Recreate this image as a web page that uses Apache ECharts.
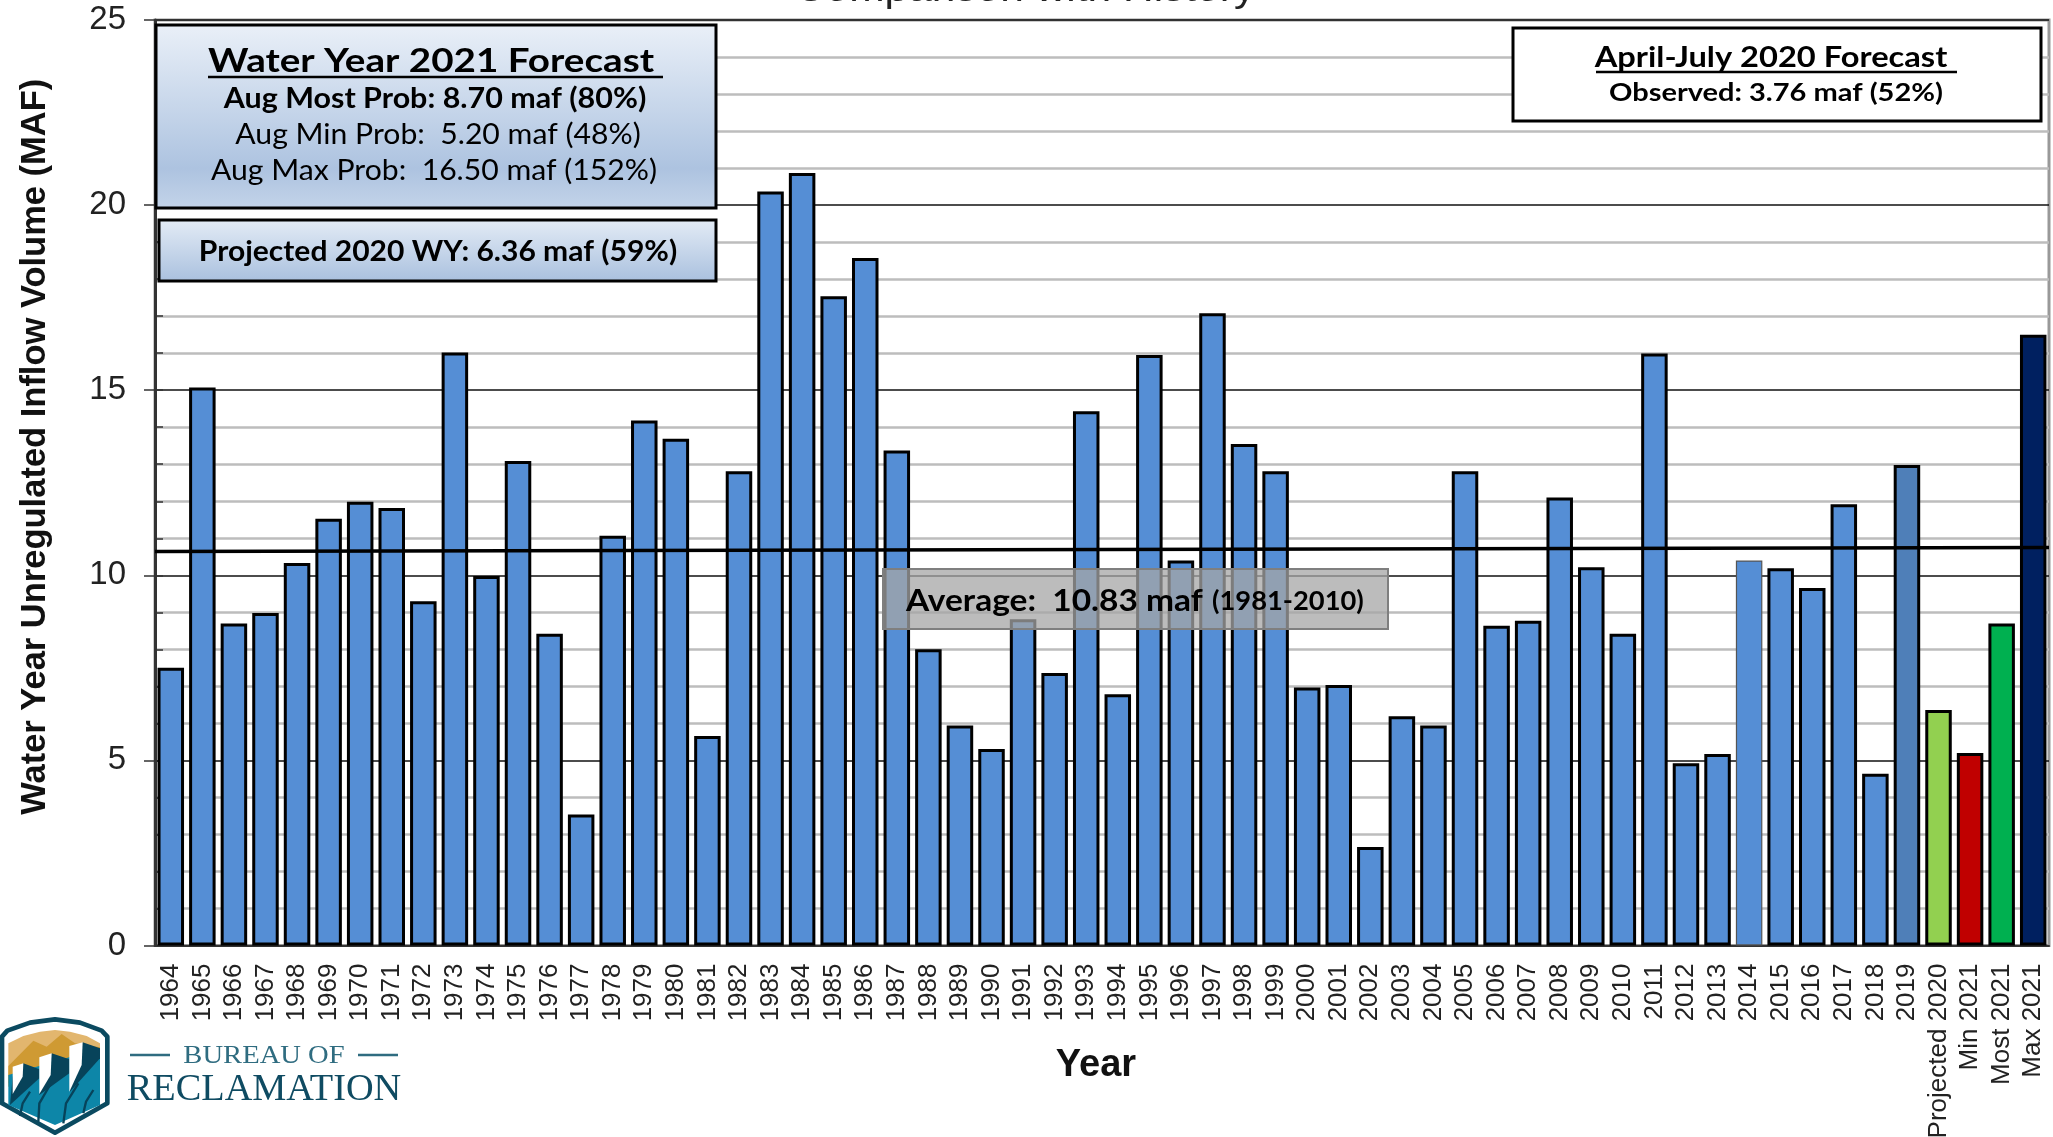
<!DOCTYPE html>
<html>
<head>
<meta charset="utf-8">
<title>Water Year Unregulated Inflow Volume</title>
<script src="https://cdn.jsdelivr.net/npm/echarts@6/dist/echarts.min.js"></script>
<style>
  html, body { margin: 0; padding: 0; background: #fff; }
  #chart { width: 2053px; height: 1137px; }
</style>
</head>
<body>
<div id="chart"></div>
<script>
var years = ['1964','1965','1966','1967','1968','1969','1970','1971','1972','1973','1974','1975','1976','1977','1978','1979','1980','1981','1982','1983','1984','1985','1986','1987','1988','1989','1990','1991','1992','1993','1994','1995','1996','1997','1998','1999','2000','2001','2002','2003','2004','2005','2006','2007','2008','2009','2010','2011','2012','2013','2014','2015','2016','2017','2018','2019'];
var forecastNames = ['Projected 2020','Min 2021','Most 2021','Max 2021'];
var inflow = [7.5,15.07,8.7,8.98,10.33,11.53,11.99,11.82,9.3,16.02,9.98,13.09,8.42,3.54,11.07,14.18,13.69,5.66,12.81,20.37,20.87,17.54,18.57,13.37,8.0,5.94,5.31,8.81,7.36,14.43,6.79,15.95,10.4,17.08,13.55,12.81,6.97,7.04,2.66,6.19,5.94,12.81,8.64,8.77,12.1,10.22,8.42,15.99,4.92,5.17,10.4,10.19,9.66,11.92,4.64,12.98];
var forecast = [6.36,5.2,8.7,16.5];
var averageEnds = [10.64,10.75];

var categories = years.concat(forecastNames);
var values = inflow.concat(forecast);

// bars that differ from the plain blue ones
var barColors = {'2019':'#4f7fb8','Projected 2020':'#92d050','Min 2021':'#c00000','Most 2021':'#00b050','Max 2021':'#002060'};

var barData = values.map(function(v, i) {
    var name = categories[i];
    var item = {value: v, itemStyle: {color: barColors[name] || '#558ed5'}};
    if (name == '2014') {
        item.itemStyle.borderColor = '#555';
        item.itemStyle.borderWidth = 1.2;
    }
    return item;
});

var chart = echarts.init(document.getElementById('chart'));

function label(text, cx, cy, size, weight, stretch, align) {
    return {
        type: 'text', x: cx, y: cy, scaleX: stretch || 1, z: 20,
        style: {
            text: text, x: 0, y: 0, fill: '#000',
            font: (weight || 'normal') + ' ' + size + 'px Lato, "Open Sans", sans-serif',
            textAlign: align || 'center', textVerticalAlign: 'middle'
        }
    };
}
function box(x, y, w, h, fill, stroke, lw) {
    return {
        type: 'rect', z: 10, shape: {x: x, y: y, width: w, height: h},
        style: {fill: fill, stroke: stroke || '#000', lineWidth: lw || 3}
    };
}
function rule(x1, x2, y) {
    return {type: 'line', z: 20, shape: {x1: x1, y1: y, x2: x2, y2: y}, style: {stroke: '#000', lineWidth: 2.5}};
}
function blueFade(stops) {
    return new echarts.graphic.LinearGradient(0, 0, 0, 1, stops);
}
function streak(points) {
    return {type: 'polyline', shape: {points: points}, style: {fill: 'none', stroke: '#07435a', lineWidth: 7}};
}

// Reclamation shield, drawn in a 3x box then scaled down
var logo = {
    type: 'group', x: 0, y: 1010, scaleX: 1/3, scaleY: 1/3, z: 5,
    children: [
        {type: 'polygon', shape: {points: [[165,28],[240,38],[305,62],[322,80],[322,280],[165,368],[6,280],[6,80],[22,62],[90,38]]}, style: {fill: '#fff', stroke: '#0b4a60', lineWidth: 14, lineJoin: 'round'}},
        {type: 'polygon', shape: {points: [[25,100],[70,78],[120,65],[165,60],[210,65],[260,78],[300,100],[300,200],[25,220]]}, style: {fill: '#e2b66e'}},
        {type: 'polygon', shape: {points: [[25,168],[100,92],[140,110],[185,72],[225,100],[300,112],[300,200],[25,230]]}, style: {fill: '#cf9a33'}},
        {type: 'polygon', shape: {points: [[25,195],[300,115],[300,285],[165,345],[25,285]]}, style: {fill: '#0d86a8'}},
        {type: 'polygon', shape: {points: [[70,160],[118,178],[118,205],[30,285],[38,200]]}, style: {fill: '#07435a'}},
        {type: 'polygon', shape: {points: [[155,130],[208,148],[208,190],[118,255],[125,200]]}, style: {fill: '#07435a'}},
        {type: 'polygon', shape: {points: [[248,97],[300,115],[300,145],[210,245],[215,170]]}, style: {fill: '#07435a'}},
        {type: 'polygon', shape: {points: [[38,170],[70,160],[68,200],[38,252]]}, style: {fill: '#fff'}},
        {type: 'polygon', shape: {points: [[118,142],[155,130],[152,195],[118,252]]}, style: {fill: '#fff'}},
        {type: 'polygon', shape: {points: [[208,108],[248,97],[245,165],[208,245]]}, style: {fill: '#fff'}},
        streak([[60,318],[68,280],[90,245]]),
        streak([[115,335],[118,280],[150,225]]),
        streak([[190,340],[198,280],[235,220]]),
        streak([[250,310],[258,275],[280,240]])
    ]
};

var graphics = [
    // chart title, cut off by the top edge in the original
    {type: 'text', x: 1025, y: 9, scaleX: 1.18, z: 20, style: {text: 'Comparison with History', x: 0, y: 0, fill: '#222', font: '36px "Liberation Sans", Arial, sans-serif', textAlign: 'center', textVerticalAlign: 'bottom'}},

    box(156, 25, 560, 183, blueFade([{offset: 0, color: '#eaf0f8'}, {offset: 0.78, color: '#adc3e0'}, {offset: 1, color: '#c4d4e9'}])),
    label('Water Year 2021 Forecast', 431, 61, 33, 'bold', 1.17),
    rule(208, 663, 77),
    label('Aug Most Prob: 8.70 maf (80%)', 435, 99, 29, 'bold', 1.05),
    label('Aug Min Prob:  5.20 maf (48%)', 438, 135, 29, 'normal', 1.04),
    label('Aug Max Prob:  16.50 maf (152%)', 434, 171, 29, 'normal', 1.04),

    box(159, 220, 557, 61, blueFade([{offset: 0, color: '#e4ecf6'}, {offset: 1, color: '#a9c0de'}])),
    label('Projected 2020 WY: 6.36 maf (59%)', 438, 252, 29, 'bold', 1.035),

    box(1513, 28, 528, 93, '#fff'),
    label('April-July 2020 Forecast', 1771, 58, 29, 'bold', 1.125),
    rule(1596, 1957, 72),
    label('Observed: 3.76 maf (52%)', 1776, 93, 25, 'bold', 1.16),

    box(883, 569, 505, 60, 'rgba(166,166,166,0.75)', '#7f7f7f', 2),
    label('Average:  10.83 maf', 906, 601, 31, 'bold', 1.08, 'left'),
    label('(1981-2010)', 1212, 602, 26, 'bold', 1.05, 'left'),

    logo,
    {type: 'line', shape: {x1: 130, y1: 1055, x2: 170, y2: 1055}, style: {stroke: '#2f6c80', lineWidth: 2.5}},
    {type: 'line', shape: {x1: 358, y1: 1055, x2: 398, y2: 1055}, style: {stroke: '#2f6c80', lineWidth: 2.5}},
    {type: 'text', x: 264, y: 1056, scaleX: 1.1, style: {text: 'BUREAU OF', x: 0, y: 0, fill: '#2f6c80', font: '26px "Liberation Serif", serif', textAlign: 'center', textVerticalAlign: 'middle'}},
    {type: 'text', x: 264, y: 1090, scaleX: 1.035, style: {text: 'RECLAMATION', x: 0, y: 0, fill: '#0f4b62', font: '37px "Liberation Serif", serif', textAlign: 'center', textVerticalAlign: 'middle'}}
];

var option = {
    animation: false,
    backgroundColor: '#fff',
    grid: {left: 155, right: 4, top: 20, bottom: 191.5, show: true, borderColor: '#999', borderWidth: 3, outerBoundsMode: 'none'},
    xAxis: [
        {
            type: 'category',
            data: categories,
            name: 'Year',
            nameLocation: 'middle',
            nameGap: 101,
            nameMoveOverlap: false,
            nameTextStyle: {fontSize: 38, fontWeight: 'bold', color: '#111', fontFamily: '"Liberation Sans", Arial, sans-serif', padding: [0, 12, 0, 0]},
            axisLine: {lineStyle: {color: '#333', width: 2}},
            axisTick: {interval: 1, length: 10, lineStyle: {color: '#333', width: 1.5}},
            axisLabel: {interval: 0, rotate: 90, margin: 18, fontSize: 26, color: '#222', fontFamily: '"Liberation Sans", Arial, sans-serif', padding: [5, 0, 0, 0]}
        },
        {type: 'value', min: 0, max: 1, show: false}
    ],
    yAxis: [
        {
            type: 'value',
            min: 0,
            max: 25,
            interval: 5,
            name: 'Water Year Unregulated Inflow Volume (MAF)',
            nameLocation: 'middle',
            nameGap: 102,
            nameMoveOverlap: false,
            nameTextStyle: {fontSize: 34.5, fontWeight: 'bold', color: '#111', fontFamily: '"Liberation Sans", Arial, sans-serif', padding: [0, 0, 0, 72]},
            axisLine: {show: true, lineStyle: {color: '#333', width: 3}},
            axisTick: {show: true, length: 11, lineStyle: {color: '#333', width: 1.5}},
            axisLabel: {margin: 29, fontSize: 33, color: '#222', fontFamily: '"Liberation Sans", Arial, sans-serif', padding: [5, 0, 0, 0]},
            splitLine: {show: true, lineStyle: {color: '#111', width: 1.5}},
            minorTick: {show: false, splitNumber: 5},
            minorSplitLine: {show: true, lineStyle: {color: '#bdbdbd', width: 2.5}}
        },
        {
            // short inner ticks at every unit
            type: 'value',
            min: 0,
            max: 25,
            interval: 1,
            position: 'left',
            axisLine: {show: false},
            axisTick: {show: true, inside: true, length: 8, lineStyle: {color: '#333', width: 1.5}},
            axisLabel: {show: false},
            splitLine: {show: false}
        }
    ],
    series: [
        {
            type: 'bar',
            data: barData,
            barWidth: 26.5,
            itemStyle: {borderColor: '#000', borderWidth: 3},
            z: 3
        },
        {
            type: 'line',
            xAxisIndex: 1,
            yAxisIndex: 0,
            data: [[0, averageEnds[0]], [1, averageEnds[1]]],
            symbol: 'none',
            silent: true,
            lineStyle: {color: '#000', width: 3.5},
            z: 5
        }
    ],
    graphic: graphics
};
chart.setOption(option);
</script>
</body>
</html>
